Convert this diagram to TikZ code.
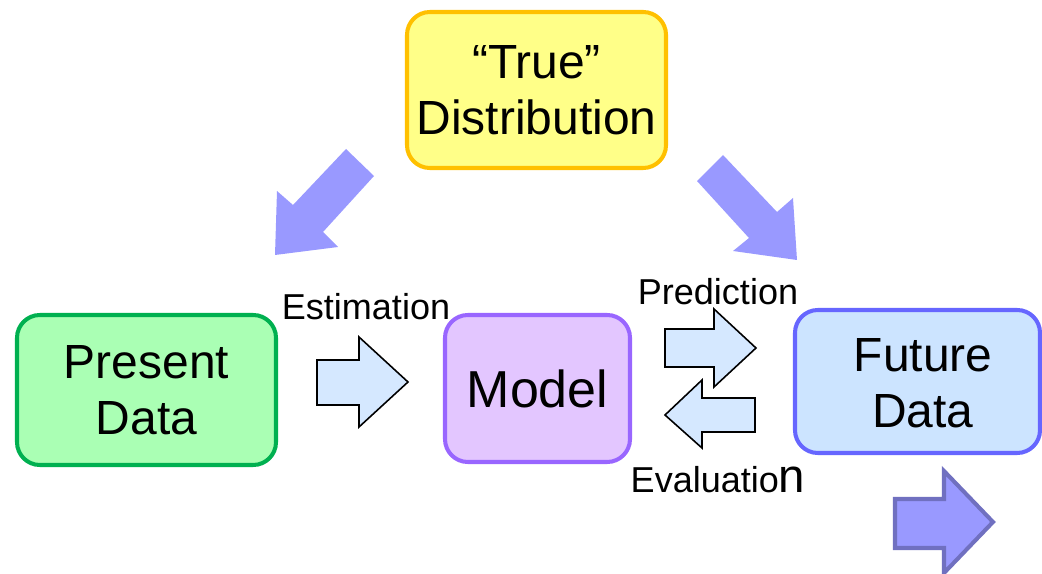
\documentclass[tikz,border=0pt]{standalone}
\usepackage{fontspec}
\setmainfont{Liberation Sans}
\definecolor{trueborder}{HTML}{FFC000}
\definecolor{truefill}{HTML}{FFFF88}
\definecolor{presborder}{HTML}{00B050}
\definecolor{presfill}{HTML}{AAFFB4}
\definecolor{modborder}{HTML}{9966FF}
\definecolor{modfill}{HTML}{E3C6FF}
\definecolor{futborder}{HTML}{6666FF}
\definecolor{futfill}{HTML}{CCE4FF}
\definecolor{blockfill}{HTML}{D5E8FF}
\definecolor{bigarrow}{HTML}{9999FF}
\definecolor{bigarrowline}{HTML}{7070C0}
\tikzset{
  databox/.style={draw, rounded corners=13pt, line width=2.3pt, align=center, inner sep=0pt,
    font=\fontsize{27.3}{32}\selectfont},
  boxtext/.style={align=center, inner sep=0pt, font=\fontsize{27.3}{32}\selectfont},
  lbl/.style={anchor=base, inner sep=0pt, font=\fontsize{20.5}{24}\selectfont},
  blockarrow/.style={draw=black, line width=0.9pt, fill=blockfill, line join=miter},
  diagarrow/.style={fill=bigarrow, draw=none},
}
\begin{document}
\begin{tikzpicture}[x=0.02cm, y=-0.02cm]
\useasboundingbox (0,0) rectangle (1042,574);
% boxes
\node[databox, draw=trueborder, fill=truefill, minimum width=259*0.02cm, minimum height=156*0.02cm]
  (true) at (536.5,90) {``True''\\Distribution};
\node[databox, draw=presborder, fill=presfill, minimum width=259*0.02cm, minimum height=150*0.02cm]
  (present) at (146.5,390) {Present\\Data};
\node[databox, draw=modborder, fill=modfill, minimum width=185*0.02cm, minimum height=147*0.02cm,
  font=\fontsize{29.6}{34}\selectfont]
  (model) at (537.5,388.5) {Model};
\node[databox, draw=futborder, fill=futfill, minimum width=245*0.02cm, minimum height=143*0.02cm]
  (future) at (917.5,381.5) {};
\node[boxtext] (futuretext) at (923,383) {Future\\Data};
% labels
\node[lbl] (estim) at (366,320) {Estimation};
\node[lbl] (pred) at (718,305) {Prediction};
\node[lbl] (evalu) at (718,492) {Evaluatio{\fontsize{27}{30}\selectfont n}};
% block arrows
\draw[blockarrow] (317,360) -- (359,360) -- (359,337) -- (408,382) -- (359,427) -- (359,405) -- (317,405) -- cycle;
\draw[blockarrow] (665,329) -- (714,329) -- (714,309) -- (756,348) -- (714,387) -- (714,367) -- (665,367) -- cycle;
\draw[blockarrow] (755,398) -- (702,398) -- (702,380) -- (665,415) -- (702,448) -- (702,432) -- (755,432) -- cycle;
% diagonal arrows
\fill[diagarrow] (346,149) -- (374,176) -- (323,232) -- (338,247) -- (275,255) -- (277,191) -- (293,205) -- cycle;
\fill[diagarrow] (697,181) -- (723,155) -- (777,212) -- (793,198) -- (797,260) -- (733,251) -- (749,238) -- cycle;
% bottom-right arrow
\draw[fill=bigarrow, draw=bigarrowline, line width=2.3pt, line join=miter]
  (895,499) -- (944,499) -- (944,471) -- (993,522) -- (944,573) -- (944,548) -- (895,548) -- cycle;
\end{tikzpicture}
\end{document}
